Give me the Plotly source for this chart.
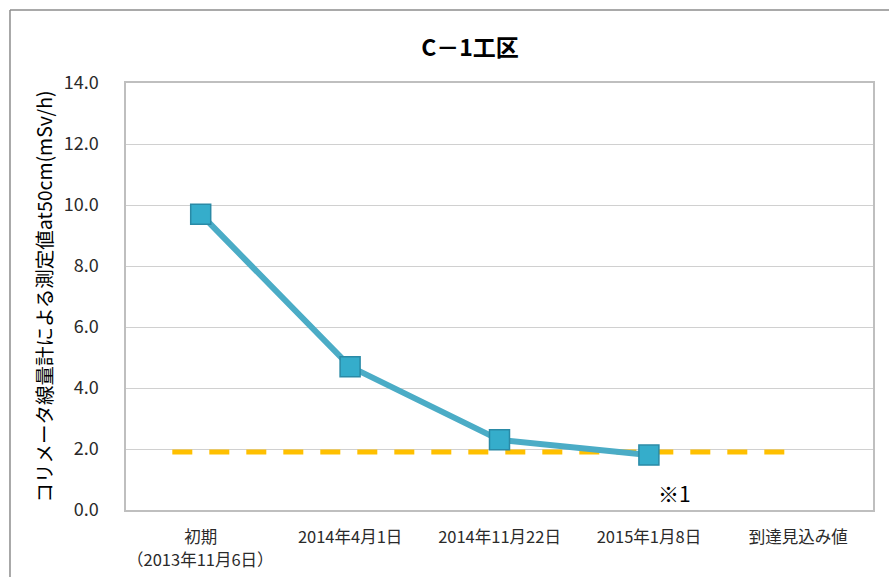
import plotly.graph_objects as go

# Survey dates (category labels) and measured dose rates
categories = ["初期", "2014年4月1日", "2014年11月22日", "2015年1月8日", "到達見込み値"]
first_date_note = "（2013年11月6日）"
measured = [9.7, 4.7, 2.3, 1.8]
target_value = 1.9
y_ticks = [0, 2, 4, 6, 8, 10, 12, 14]

cat_idx = list(range(len(categories)))
tick_font = dict(size=16.5, color="#2A2A2A", family="Noto Sans CJK JP")

fig = go.Figure()

# Expected target level (dashed)
fig.add_trace(go.Scatter(
    x=[cat_idx[0] - 0.19, cat_idx[-1]],
    y=[target_value, target_value],
    mode="lines",
    line=dict(color="#FFC000", width=5, dash="20px,17px"),
    hoverinfo="skip",
    showlegend=False,
))

# Measured values
fig.add_trace(go.Scatter(
    x=cat_idx[:len(measured)],
    y=measured,
    mode="lines+markers",
    line=dict(color="#4BACC6", width=6),
    marker=dict(symbol="square", size=20, color="#35ADCB",
                line=dict(color="#2A8AA6", width=1.5)),
    showlegend=False,
))

fig.add_annotation(
    x=3.17, y=0.55, xref="x", yref="y", text="※1", showarrow=False,
    font=dict(size=21, color="#000000", family="Noto Sans CJK JP"),
)

# Second line under the first category label
fig.add_annotation(
    x=cat_idx[0], y=0, xref="x", yref="paper", text=first_date_note,
    showarrow=False, yanchor="middle", yshift=-49, font=tick_font,
)

# Outer chart frame
frame = dict(color="#8C8C8C", width=1.5)
fig.add_shape(type="line", xref="paper", yref="paper",
              x0=-0.1553, x1=1.03, y0=1.171, y1=1.171, line=frame)
fig.add_shape(type="line", xref="paper", yref="paper",
              x0=-0.1553, x1=-0.1553, y0=1.171, y1=-0.2, line=frame)

fig.update_layout(
    width=889, height=577,
    margin=dict(l=126, r=16, t=83, b=67),
    paper_bgcolor="white", plot_bgcolor="white",
    title=dict(text="<b>C－1工区</b>", x=0.4605, xref="paper", xanchor="center",
               y=0.917, yanchor="middle",
               font=dict(size=23, color="#000000", family="Noto Sans CJK JP")),
    font=dict(family="Noto Sans CJK JP", color="#404040"),
    xaxis=dict(
        range=[-0.5, 4.5], tickmode="array", tickvals=cat_idx, ticktext=categories,
        showgrid=False, zeroline=False, showline=True, linecolor="#BFBFBF", linewidth=1.5,
        mirror=True, ticks="", ticklabelstandoff=11, tickfont=tick_font,
    ),
    yaxis=dict(
        range=[0, 14], tickmode="array", tickvals=y_ticks,
        ticktext=[f"{v:.1f}" for v in y_ticks],
        showgrid=True, gridcolor="#D0D0D0", gridwidth=1, zeroline=False,
        showline=True, linecolor="#BFBFBF", linewidth=1.5, mirror=True, ticks="",
        ticklabelstandoff=22, tickfont=dict(size=18, color="#2A2A2A"),
        title=dict(text="コリメータ線量計による測定値at50cm(mSv/h)", standoff=6,
                   font=dict(size=19.5, color="#000000")),
    ),
)

fig.write_html("out.html")
